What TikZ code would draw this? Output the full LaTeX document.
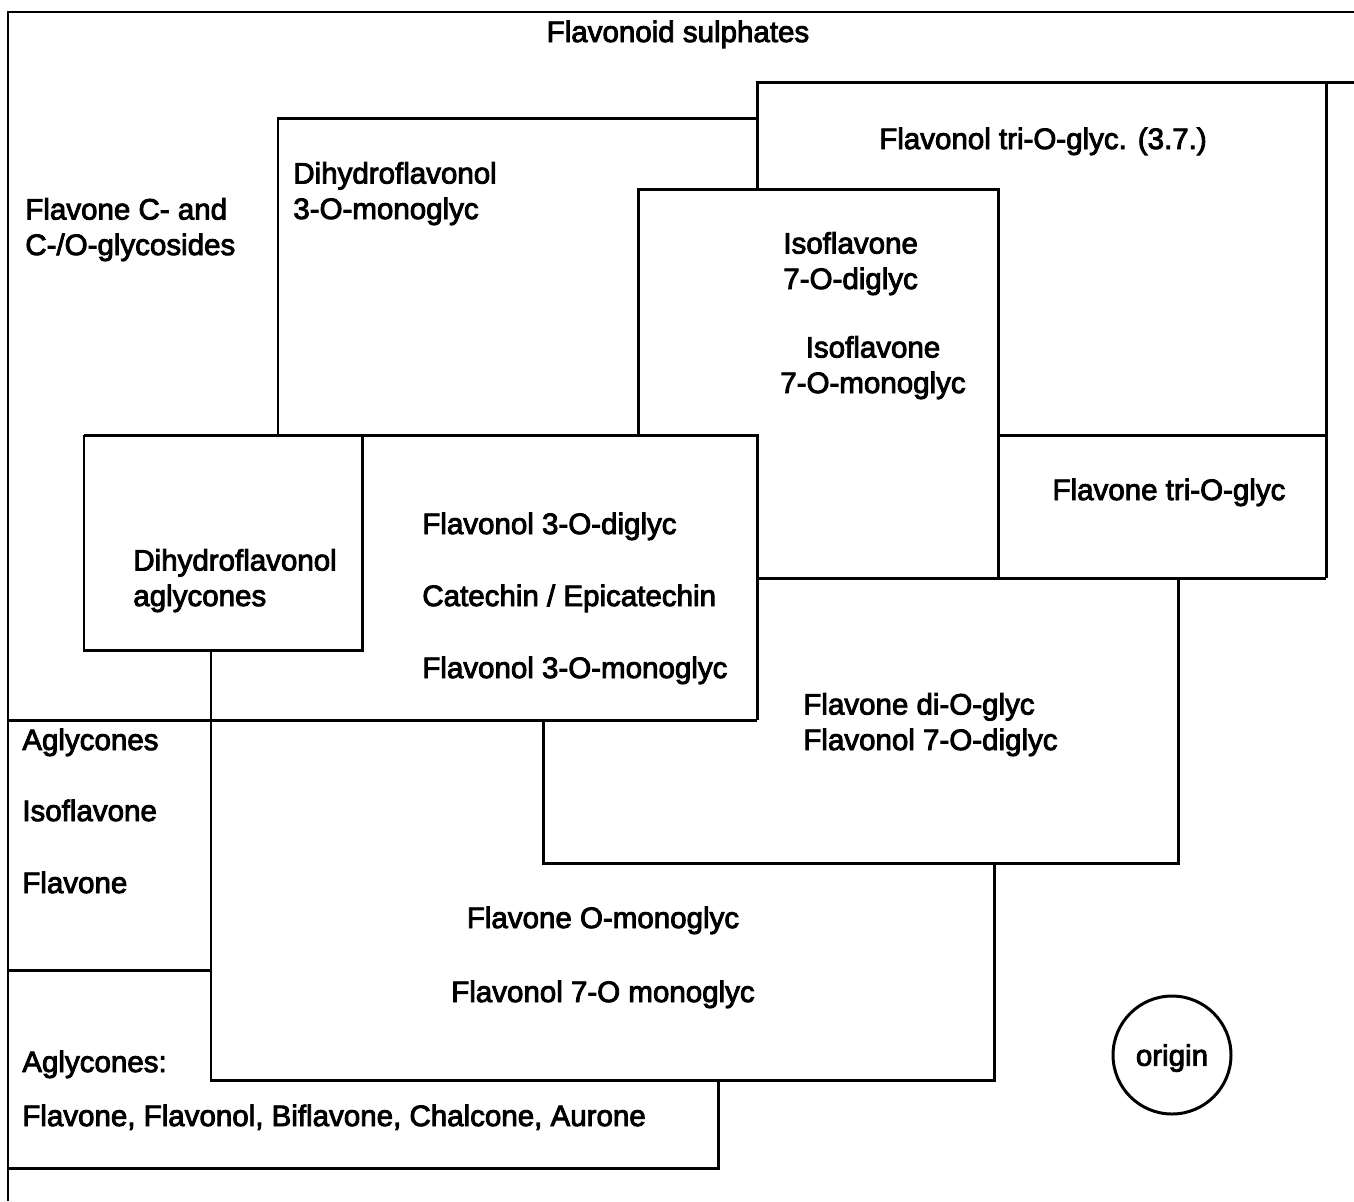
\documentclass[tikz,border=0pt]{standalone}
\usepackage{fontspec}
\setmainfont{Liberation Sans}[FakeBold=3]
\tikzset{
    zone/.style={line width=1.7pt, line join=miter},
    lbl/.style={inner sep=0pt, anchor=base west, align=left,
        font=\fontsize{16.8}{20.2}\selectfont},
    clbl/.style={lbl, anchor=base, align=center}
}
\begin{document}
\begin{tikzpicture}[x=0.02cm, y=-0.02cm]
        \useasboundingbox (0,0) rectangle (1354,1201);
        %% Outer frame
        \draw[zone] (8,1201) -- (8,12) -- (1354,12);
        %% Upper boxes
        \draw[zone] (278,435) -- (278,118) -- (757,118);
        \draw[zone] (757,189) -- (757,82) -- (1354,82);
        \draw[zone] (1326,82) -- (1326,578);
        \draw[zone] (638,435) -- (638,189) -- (998,189) -- (998,578);
        \draw[zone] (998,435) -- (1326,435);
        %% Middle boxes
        \draw[zone] (84,435) -- (757,435) -- (757,720);
        \draw[zone] (84,435) -- (84,650) -- (362,650) -- (362,435);
        \draw[zone] (757,578) -- (1326,578);
        \draw[zone] (1178,578) -- (1178,863) -- (543,863) -- (543,720);
        \draw[zone] (8,720) -- (757,720);
        %% Lower boxes
        \draw[zone] (211,650) -- (211,1080) -- (994,1080) -- (994,863);
        \draw[zone] (8,970) -- (211,970);
        \draw[zone] (8,1168) -- (718,1168) -- (718,1080);
        %% Labels (two-line ones sit on their last line)
        \node[clbl] (sulph) at (678,42) {Flavonoid sulphates};
        \node[lbl] (cglyc) at (25,255) {Flavone C- and\\C-/O-glycosides};
        \node[lbl] (dhmono) at (293,219) {Dihydroflavonol\\3-O-monoglyc};
        \node[clbl] (fltri) at (1043,149) {Flavonol tri-O-glyc. (3.7.)};
        \node[lbl] (isodi) at (783,289) {Isoflavone\\7-O-diglyc};
        \node[clbl] (isomono) at (873,393) {Isoflavone\\7-O-monoglyc};
        \node[clbl] (fntri) at (1169,500) {Flavone tri-O-glyc};
        \node[lbl] (dhagl) at (133,606) {Dihydroflavonol\\aglycones};
        \node[lbl] (fldi) at (422,534) {Flavonol 3-O-diglyc};
        \node[lbl] (cat) at (422,606) {Catechin / Epicatechin};
        \node[lbl] (flmono) at (422,678) {Flavonol 3-O-monoglyc};
        \node[lbl] (fndi) at (803,750) {Flavone di-O-glyc\\Flavonol 7-O-diglyc};
        \node[lbl] (agl) at (22,750) {Aglycones};
        \node[lbl] (iso) at (22,821) {Isoflavone};
        \node[lbl] (fn) at (22,893) {Flavone};
        \node[clbl] (fnmono) at (603,928) {Flavone O-monoglyc};
        \node[clbl] (fl7mono) at (603,1002) {Flavonol 7-O monoglyc};
        \node[lbl] (aglb) at (22,1072) {Aglycones:};
        \node[lbl] (agllist) at (22,1126) {Flavone, Flavonol, Biflavone, Chalcone, Aurone};
        %% Origin
        \node[zone, draw, circle, minimum size=2.36cm, inner sep=0pt, text depth=0pt,
            font=\fontsize{16.8}{20.2}\selectfont] (origin) at (1172,1055) {origin};
    \end{tikzpicture}
\end{document}
